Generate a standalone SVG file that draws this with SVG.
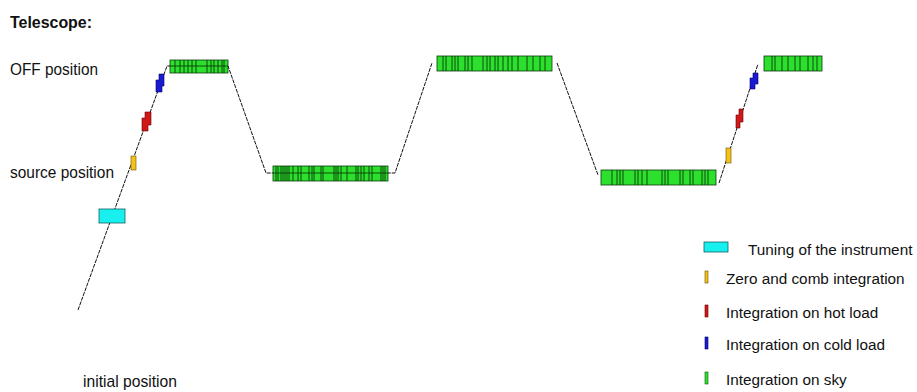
<svg xmlns="http://www.w3.org/2000/svg" width="917" height="392" viewBox="0 0 917 392">
<style>
text{font-family:"Liberation Sans",Arial,sans-serif;fill:#111}
.lbl{font-size:17px}
.leg{font-size:15.3px}
.conn{fill:none;stroke:#111;stroke-width:1;stroke-dasharray:4 1}
.sky{fill:#2ee02e;stroke:#0a3a0a;stroke-width:0.8}
.st{stroke:#0a3a0a;stroke-width:0.9}
.cy{fill:#18f0f0;stroke:#146060;stroke-width:0.8}
.ye{fill:#f2c21a;stroke:#6a5000;stroke-width:0.6}
.re{fill:#d01818;stroke:#600;stroke-width:0.6}
.bl{fill:#1a1ad0;stroke:#006;stroke-width:0.6}
.gr{fill:#2ee02e;stroke:#0a5a0a;stroke-width:0.6}
</style>
<rect width="917" height="392" fill="#fff"/>
<g id="labels">
<text x="10" y="28" font-weight="bold" font-size="16px" textLength="82" lengthAdjust="spacingAndGlyphs">Telescope:</text>
<text class="lbl" x="10" y="75" textLength="88" lengthAdjust="spacingAndGlyphs">OFF position</text>
<text class="lbl" x="10" y="178" textLength="104" lengthAdjust="spacingAndGlyphs">source position</text>
<text class="lbl" x="83" y="387" textLength="94" lengthAdjust="spacingAndGlyphs">initial position</text>
</g>
<g id="connectors">
<polyline class="conn" points="78,310 167,66 228,66 266,173 395,173 432,63"/>
<polyline class="conn" points="557,63 598,175"/>
<polyline class="conn" points="719,183 758,64"/>
</g>
<g id="tuning">
<rect class="cy" x="99" y="209" width="26" height="14"/>
</g>
<g id="cal-left">
<rect class="ye" x="131" y="156" width="5" height="14"/>
<polygon class="re" points="145,112 151,112 151,125 148,125 148,131 142,131 142,118 145,118"/>
<polygon class="bl" points="159,74 164,74 164,86 162,86 162,92 156,92 156,80 159,80"/>
</g>
<g id="sky1">
<rect class="sky" x="170" y="60" width="58" height="13"/>
<path class="st" d="M175,60v13M180,60v13M184,60v13M188,60v13M192,60v13M196,60v13M207,60v13M211,60v13M214,60v13M218,60v13M222,60v13M224,60v13"/>
<line x1="170" y1="66" x2="228" y2="66" class="st"/>
</g>
<g id="sky2">
<rect class="sky" x="273" y="166" width="115" height="15"/>
<path class="st" d="M276,166v15M278,166v15M281,166v15M283,166v15M285,166v15M287,166v15M289,166v15M293,166v15M298,166v15M301,166v15M309,166v15M312,166v15M314,166v15M321,166v15M323,166v15M334,166v15M336,166v15M338,166v15M341,166v15M347,166v15M356,166v15M358,166v15M361,166v15M364,166v15M369,166v15M372,166v15M381,166v15M383,166v15M385,166v15"/>
<line x1="273" y1="173" x2="388" y2="173" class="st"/>
</g>
<g id="sky3">
<rect class="sky" x="437" y="56" width="115" height="15"/>
<path class="st" d="M443,56v15M446,56v15M452,56v15M455,56v15M458,56v15M465,56v15M468,56v15M472,56v15M483,56v15M487,56v15M490,56v15M495,56v15M498,56v15M503,56v15M508,56v15M512,56v15M518,56v15M527,56v15M533,56v15M540,56v15M545,56v15"/>
</g>
<g id="sky4">
<rect class="sky" x="601" y="170" width="115" height="15"/>
<path class="st" d="M612,170v15M617,170v15M620,170v15M623,170v15M635,170v15M638,170v15M642,170v15M647,170v15M662,170v15M665,170v15M668,170v15M680,170v15M683,170v15M690,170v15M693,170v15M702,170v15M705,170v15M708,170v15"/>
</g>
<g id="cal-right">
<rect class="ye" x="726" y="148" width="5" height="15"/>
<polygon class="re" points="739,109 743,109 743,122 740,122 740,128 736,128 736,115 739,115"/>
<polygon class="bl" points="753,73 758,73 758,84 755,84 755,89 750,89 750,78 753,78"/>
</g>
<g id="sky5">
<rect class="sky" x="764" y="56" width="58" height="15"/>
<path class="st" d="M772,56v15M775,56v15M782,56v15M788,56v15M795,56v15M800,56v15M808,56v15M813,56v15M817,56v15"/>
</g>
<g id="legend">
<rect class="cy" x="704" y="242" width="24" height="10"/>
<text class="leg" x="748" y="255">Tuning of the instrument</text>
<rect class="ye" x="705" y="271" width="3" height="12"/>
<text class="leg" x="726" y="284">Zero and comb integration</text>
<rect class="re" x="705" y="305" width="3" height="12"/>
<text class="leg" x="726" y="318">Integration on hot load</text>
<rect class="bl" x="705" y="337" width="3" height="12"/>
<text class="leg" x="726" y="350">Integration on cold load</text>
<rect class="gr" x="705" y="372" width="3" height="12"/>
<text class="leg" x="726" y="385">Integration on sky</text>
</g>
</svg>
